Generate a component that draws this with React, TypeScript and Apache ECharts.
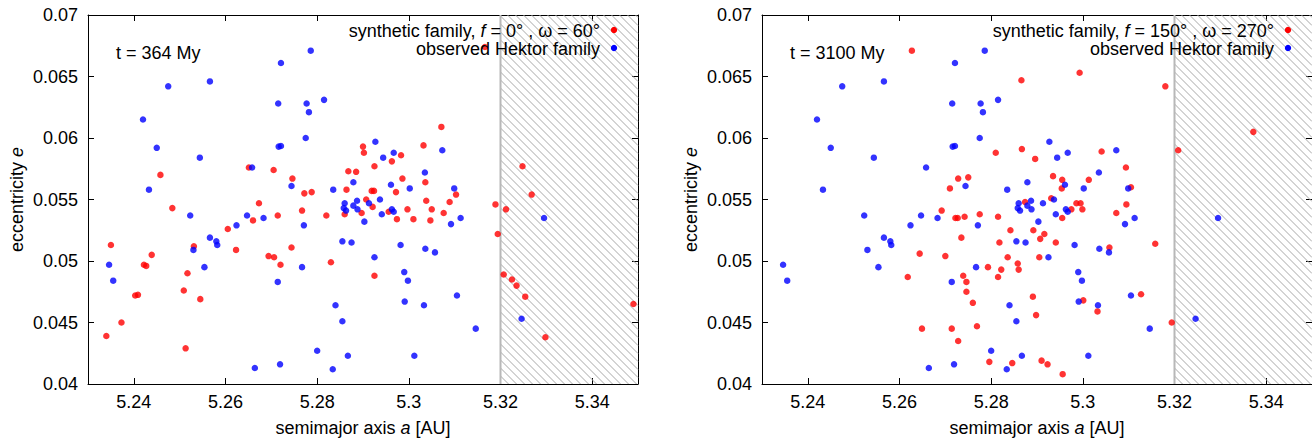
import React, { useEffect, useRef } from "react";
import * as echarts from "echarts";

// ---------- data ----------
const aRange = [5.23, 5.35];
const eRange = [0.04, 0.07];
const eInterval = 0.005;
const aTicks = [5.24, 5.26, 5.28, 5.3, 5.32, 5.34];
const unstableZone = [5.32, 5.35];

const panelTimes = ["t = 364 My", "t = 3100 My"];
const panelF = ["0°", "150°"];
const panelOmega = ["60°", "270°"];
const observedName = "observed Hektor family";

const observedHektor: [number, number][] = [
  [5.2420, 0.0615], [5.2475, 0.0642], [5.2450, 0.0592], [5.2433, 0.0558], [5.2544, 0.0584],
  [5.2566, 0.0646], [5.2523, 0.0537], [5.2658, 0.0576], [5.2647, 0.0537], [5.2683, 0.0535],
  [5.2715, 0.0628], [5.2721, 0.0661], [5.2716, 0.0593], [5.2721, 0.05935], [5.2786, 0.0671],
  [5.2777, 0.0628], [5.2782, 0.0621], [5.2775, 0.0600], [5.2815, 0.0631], [5.2744, 0.0561],
  [5.2835, 0.0558], [5.2879, 0.0564], [5.2860, 0.0547], [5.2858, 0.0543], [5.2863, 0.0541],
  [5.2879, 0.0545], [5.2887, 0.0549], [5.2888, 0.0542], [5.2927, 0.0597], [5.2967, 0.0588],
  [5.2944, 0.0584], [5.3073, 0.0590], [5.3035, 0.0572], [5.2961, 0.0562], [5.3002, 0.0559],
  [5.3099, 0.0559], [5.2913, 0.0547], [5.2937, 0.0550], [5.2903, 0.0532], [5.2941, 0.0538],
  [5.2963, 0.0542], [5.2967, 0.0540], [5.2771, 0.0529], [5.3113, 0.0535], [5.3092, 0.0530],
  [5.2855, 0.0516], [5.2875, 0.0515], [5.2982, 0.0513], [5.3036, 0.0510], [5.3057, 0.0507],
  [5.2925, 0.0503], [5.3295, 0.0535], [5.3246, 0.0453], [5.2990, 0.0491], [5.2998, 0.0484],
  [5.2991, 0.0467], [5.3033, 0.0464], [5.3105, 0.0472], [5.3146, 0.0445], [5.2855, 0.0451],
  [5.2867, 0.0423], [5.3012, 0.0423], [5.2346, 0.0497], [5.2355, 0.0484], [5.2530, 0.0509],
  [5.2554, 0.0495], [5.2566, 0.0519], [5.2580, 0.0516], [5.2582, 0.0513], [5.2624, 0.0529],
  [5.2714, 0.0483], [5.2767, 0.0495], [5.2664, 0.0413], [5.2719, 0.0416], [5.2800, 0.0427],
  [5.2834, 0.0412], [5.2840, 0.0464],
];

const synthetic364: [number, number][] = [
  [5.2458, 0.0570], [5.2484, 0.0543], [5.2651, 0.0576], [5.2673, 0.0547], [5.2705, 0.0574],
  [5.2714, 0.0537], [5.2746, 0.0567], [5.2772, 0.0555], [5.2788, 0.0556], [5.2767, 0.0541],
  [5.2820, 0.0537], [5.2868, 0.0573], [5.2885, 0.05725], [5.2864, 0.0558], [5.2860, 0.0538],
  [5.3071, 0.0609], [5.2900, 0.0593], [5.2902, 0.0588], [5.3032, 0.0594], [5.2983, 0.0586],
  [5.2963, 0.0581], [5.2925, 0.0577], [5.2986, 0.0567], [5.3036, 0.0564], [5.2919, 0.0557],
  [5.2924, 0.0557], [5.2972, 0.0556], [5.3103, 0.0554], [5.2907, 0.0550], [5.2921, 0.0544],
  [5.3038, 0.0549], [5.3089, 0.0548], [5.2897, 0.0539], [5.2956, 0.0540], [5.2997, 0.0542],
  [5.3050, 0.0542], [5.3076, 0.0539], [5.2974, 0.0534], [5.3010, 0.0534], [5.3047, 0.0533],
  [5.2744, 0.0511], [5.2830, 0.0499], [5.3166, 0.0674], [5.3248, 0.0577], [5.3268, 0.0554],
  [5.3189, 0.0546], [5.3212, 0.0542], [5.3194, 0.0522], [5.3207, 0.0489], [5.3225, 0.0485],
  [5.3235, 0.0480], [5.3254, 0.0471], [5.3298, 0.0438], [5.3490, 0.0465], [5.2925, 0.0488],
  [5.2350, 0.0513], [5.2340, 0.0439], [5.2373, 0.0450], [5.2403, 0.0472], [5.2409, 0.04725],
  [5.2422, 0.0497], [5.2427, 0.0496], [5.2439, 0.0505], [5.2509, 0.0476], [5.2517, 0.0490],
  [5.2513, 0.0429], [5.2531, 0.0512], [5.2545, 0.0469], [5.2605, 0.0526], [5.2623, 0.0509],
  [5.2660, 0.0533], [5.2694, 0.0504], [5.2706, 0.0503], [5.2720, 0.0497],
];

const synthetic3100: [number, number][] = [
  [5.2627, 0.0671], [5.2866, 0.0647], [5.2867, 0.0591], [5.2896, 0.0583], [5.2810, 0.0588],
  [5.2750, 0.0568], [5.2728, 0.0567], [5.2710, 0.0559], [5.2692, 0.0541], [5.2722, 0.0535],
  [5.2727, 0.0535], [5.2742, 0.0536], [5.2775, 0.0538], [5.2815, 0.0536], [5.2874, 0.0548],
  [5.2993, 0.0653], [5.3180, 0.0642], [5.3372, 0.0605], [5.3041, 0.0589], [5.3208, 0.0590],
  [5.3094, 0.0576], [5.2935, 0.0569], [5.2955, 0.0566], [5.2954, 0.0559], [5.3013, 0.0566],
  [5.3105, 0.0560], [5.2931, 0.0551], [5.2986, 0.0547], [5.2995, 0.0547], [5.2999, 0.0542],
  [5.2975, 0.0542], [5.2955, 0.0535], [5.3095, 0.0546], [5.3073, 0.0539], [5.2700, 0.0504],
  [5.2735, 0.0519], [5.2818, 0.0515], [5.2842, 0.0525], [5.2892, 0.0525], [5.2916, 0.0522],
  [5.2907, 0.0518], [5.2941, 0.0515], [5.2793, 0.0495], [5.2822, 0.0493], [5.2836, 0.0503],
  [5.2858, 0.0498], [5.2860, 0.0493], [5.2905, 0.0503], [5.3058, 0.0511], [5.2815, 0.0487],
  [5.2739, 0.0488], [5.2746, 0.0483], [5.2746, 0.0475], [5.2760, 0.0466], [5.2891, 0.0471],
  [5.2898, 0.0456], [5.3001, 0.0468], [5.3032, 0.0459], [5.3127, 0.0473], [5.2714, 0.0445],
  [5.2769, 0.0447], [5.2728, 0.0435], [5.2796, 0.0418], [5.2846, 0.0417], [5.2910, 0.0419],
  [5.2923, 0.0416], [5.2956, 0.0408], [5.2644, 0.0506], [5.2618, 0.0487], [5.2649, 0.0445],
  [5.3158, 0.0514], [5.3194, 0.0450],
];

const syntheticSets = [synthetic364, synthetic3100];

// ---------- style ----------
const FONT = "Liberation Sans, Arial, Helvetica, sans-serif";
const FS = 18;
const RED = "#ff0000";
const BLUE = "#0000ff";
const grids = [
  { left: 88, top: 15, width: 550, height: 371 },
  { left: 762, top: 15, width: 550, height: 371 },
];

const richBase = {
  n: { fontFamily: FONT, fontSize: FS, color: "#000" },
  i: { fontFamily: FONT, fontSize: FS, color: "#000", fontStyle: "italic" },
};

const fmtA = (v: number) => String(parseFloat(v.toFixed(2)));
const fmtE = (v: number) => String(parseFloat(v.toFixed(3)));

function renderHatch(params: any, api: any) {
  const cs = params.coordSys;
  const x0 = api.coord([api.value(0), eRange[1]])[0];
  const x1 = Math.min(api.coord([api.value(1), eRange[1]])[0], cs.x + cs.width);
  const top = cs.y;
  const bottom = cs.y + cs.height;
  const h = bottom - top;
  const step = 8;
  const children: any[] = [];
  for (let c = x0 - h; c < x1; c += step) {
    let sx = c, sy = top, ex = c + h, ey = bottom;
    if (sx < x0) { sy = top + (x0 - sx); sx = x0; }
    if (ex > x1) { ey = bottom - (ex - x1); ex = x1; }
    if (ex <= sx) continue;
    children.push({
      type: "line",
      shape: { x1: sx, y1: sy, x2: ex, y2: ey },
      style: { stroke: "#a8a8a8", lineWidth: 1 },
    });
  }
  children.push({
    type: "line",
    shape: { x1: x0, y1: top, x2: x0, y2: bottom },
    style: { stroke: "#b8b8b8", lineWidth: 2 },
  });
  return { type: "group", children };
}

function buildOption() {
  const xAxis: any[] = [];
  const yAxis: any[] = [];
  const series: any[] = [];
  const graphic: any[] = [];

  grids.forEach((g, gi) => {
    const tick = { inside: true, length: 6, lineStyle: { color: "#000", width: 1 } };
    const line = { onZero: false, lineStyle: { color: "#000", width: 1 } };
    xAxis.push({
      gridIndex: gi, type: "value", min: aRange[0], max: aRange[1], position: "bottom",
      axisLine: line,
      axisTick: { ...tick, customValues: aTicks },
      axisLabel: { customValues: aTicks, formatter: fmtA, color: "#000", fontSize: FS, fontFamily: FONT, margin: 9 },
      splitLine: { show: false },
      name: "{n|semimajor axis }{i|a}{n| [AU]}",
      nameLocation: "middle", nameGap: 35,
      nameTextStyle: { rich: richBase },
    });
    xAxis.push({
      gridIndex: gi, type: "value", min: aRange[0], max: aRange[1], position: "top",
      axisLine: line,
      axisTick: { ...tick, customValues: aTicks },
      axisLabel: { show: false },
      splitLine: { show: false },
    });
    yAxis.push({
      gridIndex: gi, type: "value", min: eRange[0], max: eRange[1], interval: eInterval, position: "left",
      axisLine: line, axisTick: tick,
      axisLabel: { formatter: fmtE, color: "#000", fontSize: FS, fontFamily: FONT, margin: 10 },
      splitLine: { show: false },
      name: "{n|eccentricity }{i|e}",
      nameLocation: "middle", nameGap: 62,
      nameTextStyle: { rich: richBase },
    });
    yAxis.push({
      gridIndex: gi, type: "value", min: eRange[0], max: eRange[1], interval: eInterval, position: "right",
      axisLine: line, axisTick: tick,
      axisLabel: { show: false },
      splitLine: { show: false },
    });

    const synthName = `synthetic family, f = ${panelF[gi]} , ω = ${panelOmega[gi]}`;
    series.push({
      type: "custom", name: "unstable zone " + gi, xAxisIndex: gi * 2, yAxisIndex: gi * 2,
      renderItem: renderHatch, data: [unstableZone], silent: true, z: 1, clip: false,
    });
    series.push({
      type: "scatter", name: synthName, xAxisIndex: gi * 2, yAxisIndex: gi * 2,
      data: syntheticSets[gi], symbol: "circle", symbolSize: 6.5,
      itemStyle: { color: RED }, silent: true, z: 3,
    });
    series.push({
      type: "scatter", name: observedName, xAxisIndex: gi * 2, yAxisIndex: gi * 2,
      data: observedHektor, symbol: "circle", symbolSize: 6.5,
      itemStyle: { color: BLUE }, silent: true, z: 4,
    });

    const right = g.left + g.width;
    const textRight = right - 38;
    const markX = right - 24;
    graphic.push({
      type: "text", x: g.left + 28, y: 53, z: 10,
      style: { text: panelTimes[gi], fill: "#000", fontSize: FS, fontFamily: FONT, textVerticalAlign: "middle" },
    });
    graphic.push({
      type: "text", x: textRight, y: 31, z: 10,
      style: {
        text: `{n|synthetic family, }{i|f}{n| = ${panelF[gi]} , ω = ${panelOmega[gi]}}`,
        rich: richBase, textAlign: "right", textVerticalAlign: "middle",
      },
    });
    graphic.push({
      type: "text", x: textRight, y: 48.5, z: 10,
      style: {
        text: observedName, fill: "#000", fontSize: FS, fontFamily: FONT,
        textAlign: "right", textVerticalAlign: "middle",
      },
    });
    graphic.push({ type: "circle", z: 10, shape: { cx: markX, cy: 30, r: 3.2 }, style: { fill: RED } });
    graphic.push({ type: "circle", z: 10, shape: { cx: markX, cy: 48, r: 3.2 }, style: { fill: BLUE } });
  });

  return {
    animation: false,
    backgroundColor: "#fff",
    textStyle: { fontFamily: FONT },
    grid: grids.map((g) => ({ ...g, containLabel: false })),
    xAxis, yAxis, series, graphic,
  };
}

export default function App() {
  const ref = useRef<HTMLDivElement>(null);
  useEffect(() => {
    if (!ref.current) return;
    const chart = echarts.init(ref.current, undefined, { renderer: "svg" });
    chart.setOption(buildOption() as any);
    return () => chart.dispose();
  }, []);
  return (
    <div
      ref={ref}
      style={{ position: "absolute", left: 0, top: 0, width: 1312, height: 442, background: "#fff" }}
    />
  );
}
